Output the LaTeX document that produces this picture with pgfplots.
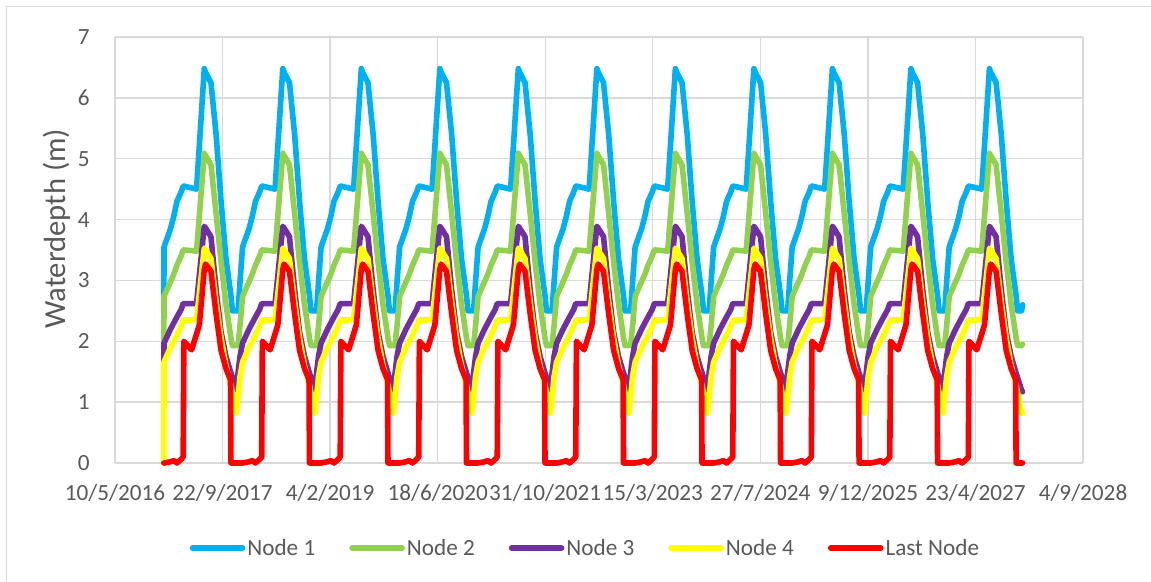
\documentclass[border=0pt]{standalone}
\usepackage{fontspec}
\setmainfont{Carlito}
\usepackage{pgfplots}
\usepackage{pgfplotstable}
\pgfplotsset{compat=1.18}

\definecolor{nodeone}{HTML}{00B0F0}
\definecolor{nodetwo}{HTML}{92D050}
\definecolor{nodethree}{HTML}{7030A0}
\definecolor{nodefour}{HTML}{FFFF00}
\definecolor{lastnode}{HTML}{FF0000}
\definecolor{gridgray}{HTML}{D9D9D9}
\definecolor{textgray}{HTML}{595959}

% days since 10/5/2016, water depth (m) for each node
\pgfplotstableread{
d n1 n2 n3 n4 ln
227 2.50 1.93 1.30 0.00 0.00
228 3.55 2.74 1.97 1.66 0.00
258 3.85 2.98 2.20 1.90 0.02
273 4.05 3.10 2.30 2.00 0.04
288 4.30 3.25 2.40 2.10 0.00
307 4.45 3.40 2.52 2.25 0.06
317 4.55 3.50 2.62 2.35 0.10
320 4.55 3.50 2.62 2.35 2.00
356 4.52 3.49 2.62 2.35 1.86
379 4.50 3.48 2.62 2.36 2.12
392 5.21 4.06 3.08 2.78 2.27
415 6.48 5.09 3.89 3.53 3.18
421 6.42 5.05 3.86 3.50 3.27
446 6.25 4.90 3.72 3.36 3.15
470 5.40 4.10 2.85 2.65 2.45
493 4.30 3.30 2.15 2.05 1.85
516 3.35 2.60 1.75 1.60 1.55
537 2.80 2.10 1.50 1.30 1.37
539 2.75 2.05 1.48 1.28 0.00
546 2.50 1.93 1.40 1.15 0.00
564 2.50 1.93 1.20 0.82 0.00
572 2.50 1.93 1.48 1.08 0.00
581 2.97 2.25 1.75 1.42 0.00
593 3.55 2.74 1.97 1.66 0.00
623 3.85 2.98 2.20 1.90 0.02
638 4.05 3.10 2.30 2.00 0.04
653 4.30 3.25 2.40 2.10 0.00
672 4.45 3.40 2.52 2.25 0.06
682 4.55 3.50 2.62 2.35 0.10
685 4.55 3.50 2.62 2.35 2.00
721 4.52 3.49 2.62 2.35 1.86
744 4.50 3.48 2.62 2.36 2.12
757 5.21 4.06 3.08 2.78 2.27
780 6.48 5.09 3.89 3.53 3.18
786 6.42 5.05 3.86 3.50 3.27
811 6.25 4.90 3.72 3.36 3.15
835 5.40 4.10 2.85 2.65 2.45
858 4.30 3.30 2.15 2.05 1.85
881 3.35 2.60 1.75 1.60 1.55
902 2.80 2.10 1.50 1.30 1.37
904 2.75 2.05 1.48 1.28 0.00
911 2.50 1.93 1.40 1.15 0.00
929 2.50 1.93 1.20 0.82 0.00
937 2.50 1.93 1.48 1.08 0.00
946 2.97 2.25 1.75 1.42 0.00
958 3.55 2.74 1.97 1.66 0.00
988 3.85 2.98 2.20 1.90 0.02
1003 4.05 3.10 2.30 2.00 0.04
1018 4.30 3.25 2.40 2.10 0.00
1037 4.45 3.40 2.52 2.25 0.06
1047 4.55 3.50 2.62 2.35 0.10
1050 4.55 3.50 2.62 2.35 2.00
1086 4.52 3.49 2.62 2.35 1.86
1109 4.50 3.48 2.62 2.36 2.12
1122 5.21 4.06 3.08 2.78 2.27
1145 6.48 5.09 3.89 3.53 3.18
1151 6.42 5.05 3.86 3.50 3.27
1176 6.25 4.90 3.72 3.36 3.15
1200 5.40 4.10 2.85 2.65 2.45
1223 4.30 3.30 2.15 2.05 1.85
1246 3.35 2.60 1.75 1.60 1.55
1267 2.80 2.10 1.50 1.30 1.37
1269 2.75 2.05 1.48 1.28 0.00
1276 2.50 1.93 1.40 1.15 0.00
1294 2.50 1.93 1.20 0.82 0.00
1302 2.50 1.93 1.48 1.08 0.00
1311 2.97 2.25 1.75 1.42 0.00
1323 3.55 2.74 1.97 1.66 0.00
1353 3.85 2.98 2.20 1.90 0.02
1368 4.05 3.10 2.30 2.00 0.04
1383 4.30 3.25 2.40 2.10 0.00
1402 4.45 3.40 2.52 2.25 0.06
1412 4.55 3.50 2.62 2.35 0.10
1415 4.55 3.50 2.62 2.35 2.00
1451 4.52 3.49 2.62 2.35 1.86
1474 4.50 3.48 2.62 2.36 2.12
1487 5.21 4.06 3.08 2.78 2.27
1510 6.48 5.09 3.89 3.53 3.18
1516 6.42 5.05 3.86 3.50 3.27
1541 6.25 4.90 3.72 3.36 3.15
1565 5.40 4.10 2.85 2.65 2.45
1588 4.30 3.30 2.15 2.05 1.85
1611 3.35 2.60 1.75 1.60 1.55
1632 2.80 2.10 1.50 1.30 1.37
1634 2.75 2.05 1.48 1.28 0.00
1641 2.50 1.93 1.40 1.15 0.00
1659 2.50 1.93 1.20 0.82 0.00
1667 2.50 1.93 1.48 1.08 0.00
1676 2.97 2.25 1.75 1.42 0.00
1688 3.55 2.74 1.97 1.66 0.00
1718 3.85 2.98 2.20 1.90 0.02
1733 4.05 3.10 2.30 2.00 0.04
1748 4.30 3.25 2.40 2.10 0.00
1767 4.45 3.40 2.52 2.25 0.06
1777 4.55 3.50 2.62 2.35 0.10
1780 4.55 3.50 2.62 2.35 2.00
1816 4.52 3.49 2.62 2.35 1.86
1839 4.50 3.48 2.62 2.36 2.12
1852 5.21 4.06 3.08 2.78 2.27
1875 6.48 5.09 3.89 3.53 3.18
1881 6.42 5.05 3.86 3.50 3.27
1906 6.25 4.90 3.72 3.36 3.15
1930 5.40 4.10 2.85 2.65 2.45
1953 4.30 3.30 2.15 2.05 1.85
1976 3.35 2.60 1.75 1.60 1.55
1997 2.80 2.10 1.50 1.30 1.37
1999 2.75 2.05 1.48 1.28 0.00
2006 2.50 1.93 1.40 1.15 0.00
2024 2.50 1.93 1.20 0.82 0.00
2032 2.50 1.93 1.48 1.08 0.00
2041 2.97 2.25 1.75 1.42 0.00
2053 3.55 2.74 1.97 1.66 0.00
2083 3.85 2.98 2.20 1.90 0.02
2098 4.05 3.10 2.30 2.00 0.04
2113 4.30 3.25 2.40 2.10 0.00
2132 4.45 3.40 2.52 2.25 0.06
2142 4.55 3.50 2.62 2.35 0.10
2145 4.55 3.50 2.62 2.35 2.00
2181 4.52 3.49 2.62 2.35 1.86
2204 4.50 3.48 2.62 2.36 2.12
2217 5.21 4.06 3.08 2.78 2.27
2240 6.48 5.09 3.89 3.53 3.18
2246 6.42 5.05 3.86 3.50 3.27
2271 6.25 4.90 3.72 3.36 3.15
2295 5.40 4.10 2.85 2.65 2.45
2318 4.30 3.30 2.15 2.05 1.85
2341 3.35 2.60 1.75 1.60 1.55
2362 2.80 2.10 1.50 1.30 1.37
2364 2.75 2.05 1.48 1.28 0.00
2371 2.50 1.93 1.40 1.15 0.00
2389 2.50 1.93 1.20 0.82 0.00
2397 2.50 1.93 1.48 1.08 0.00
2406 2.97 2.25 1.75 1.42 0.00
2418 3.55 2.74 1.97 1.66 0.00
2448 3.85 2.98 2.20 1.90 0.02
2463 4.05 3.10 2.30 2.00 0.04
2478 4.30 3.25 2.40 2.10 0.00
2497 4.45 3.40 2.52 2.25 0.06
2507 4.55 3.50 2.62 2.35 0.10
2510 4.55 3.50 2.62 2.35 2.00
2546 4.52 3.49 2.62 2.35 1.86
2569 4.50 3.48 2.62 2.36 2.12
2582 5.21 4.06 3.08 2.78 2.27
2605 6.48 5.09 3.89 3.53 3.18
2611 6.42 5.05 3.86 3.50 3.27
2636 6.25 4.90 3.72 3.36 3.15
2660 5.40 4.10 2.85 2.65 2.45
2683 4.30 3.30 2.15 2.05 1.85
2706 3.35 2.60 1.75 1.60 1.55
2727 2.80 2.10 1.50 1.30 1.37
2729 2.75 2.05 1.48 1.28 0.00
2736 2.50 1.93 1.40 1.15 0.00
2754 2.50 1.93 1.20 0.82 0.00
2762 2.50 1.93 1.48 1.08 0.00
2771 2.97 2.25 1.75 1.42 0.00
2783 3.55 2.74 1.97 1.66 0.00
2813 3.85 2.98 2.20 1.90 0.02
2828 4.05 3.10 2.30 2.00 0.04
2843 4.30 3.25 2.40 2.10 0.00
2862 4.45 3.40 2.52 2.25 0.06
2872 4.55 3.50 2.62 2.35 0.10
2875 4.55 3.50 2.62 2.35 2.00
2911 4.52 3.49 2.62 2.35 1.86
2934 4.50 3.48 2.62 2.36 2.12
2947 5.21 4.06 3.08 2.78 2.27
2970 6.48 5.09 3.89 3.53 3.18
2976 6.42 5.05 3.86 3.50 3.27
3001 6.25 4.90 3.72 3.36 3.15
3025 5.40 4.10 2.85 2.65 2.45
3048 4.30 3.30 2.15 2.05 1.85
3071 3.35 2.60 1.75 1.60 1.55
3092 2.80 2.10 1.50 1.30 1.37
3094 2.75 2.05 1.48 1.28 0.00
3101 2.50 1.93 1.40 1.15 0.00
3119 2.50 1.93 1.20 0.82 0.00
3127 2.50 1.93 1.48 1.08 0.00
3136 2.97 2.25 1.75 1.42 0.00
3148 3.55 2.74 1.97 1.66 0.00
3178 3.85 2.98 2.20 1.90 0.02
3193 4.05 3.10 2.30 2.00 0.04
3208 4.30 3.25 2.40 2.10 0.00
3227 4.45 3.40 2.52 2.25 0.06
3237 4.55 3.50 2.62 2.35 0.10
3240 4.55 3.50 2.62 2.35 2.00
3276 4.52 3.49 2.62 2.35 1.86
3299 4.50 3.48 2.62 2.36 2.12
3312 5.21 4.06 3.08 2.78 2.27
3335 6.48 5.09 3.89 3.53 3.18
3341 6.42 5.05 3.86 3.50 3.27
3366 6.25 4.90 3.72 3.36 3.15
3390 5.40 4.10 2.85 2.65 2.45
3413 4.30 3.30 2.15 2.05 1.85
3436 3.35 2.60 1.75 1.60 1.55
3457 2.80 2.10 1.50 1.30 1.37
3459 2.75 2.05 1.48 1.28 0.00
3466 2.50 1.93 1.40 1.15 0.00
3484 2.50 1.93 1.20 0.82 0.00
3492 2.50 1.93 1.48 1.08 0.00
3501 2.97 2.25 1.75 1.42 0.00
3513 3.55 2.74 1.97 1.66 0.00
3543 3.85 2.98 2.20 1.90 0.02
3558 4.05 3.10 2.30 2.00 0.04
3573 4.30 3.25 2.40 2.10 0.00
3592 4.45 3.40 2.52 2.25 0.06
3602 4.55 3.50 2.62 2.35 0.10
3605 4.55 3.50 2.62 2.35 2.00
3641 4.52 3.49 2.62 2.35 1.86
3664 4.50 3.48 2.62 2.36 2.12
3677 5.21 4.06 3.08 2.78 2.27
3700 6.48 5.09 3.89 3.53 3.18
3706 6.42 5.05 3.86 3.50 3.27
3731 6.25 4.90 3.72 3.36 3.15
3755 5.40 4.10 2.85 2.65 2.45
3778 4.30 3.30 2.15 2.05 1.85
3801 3.35 2.60 1.75 1.60 1.55
3822 2.80 2.10 1.50 1.30 1.37
3824 2.75 2.05 1.48 1.28 0.00
3831 2.50 1.93 1.40 1.15 0.00
3849 2.50 1.93 1.20 0.82 0.00
3857 2.50 1.93 1.48 1.08 0.00
3866 2.97 2.25 1.75 1.42 0.00
3878 3.55 2.74 1.97 1.66 0.00
3908 3.85 2.98 2.20 1.90 0.02
3923 4.05 3.10 2.30 2.00 0.04
3938 4.30 3.25 2.40 2.10 0.00
3957 4.45 3.40 2.52 2.25 0.06
3967 4.55 3.50 2.62 2.35 0.10
3970 4.55 3.50 2.62 2.35 2.00
4006 4.52 3.49 2.62 2.35 1.86
4029 4.50 3.48 2.62 2.36 2.12
4042 5.21 4.06 3.08 2.78 2.27
4065 6.48 5.09 3.89 3.53 3.18
4071 6.42 5.05 3.86 3.50 3.27
4096 6.25 4.90 3.72 3.36 3.15
4120 5.40 4.10 2.85 2.65 2.45
4143 4.30 3.30 2.15 2.05 1.85
4166 3.35 2.60 1.75 1.60 1.55
4187 2.80 2.10 1.50 1.30 1.37
4189 2.75 2.05 1.48 1.28 0.00
4196 2.50 1.93 1.40 1.15 0.00
4214 2.50 1.93 1.20 0.82 0.00
4219 2.60 1.95 1.17 0.82 0.00
}\depthdata

\begin{document}
\begin{tikzpicture}
\useasboundingbox (0pt,0pt) rectangle (863.25pt,435.75pt);
\draw[gridgray, line width=0.75pt] (4.5pt,-10pt) rectangle (880pt,430.5pt);
\begin{axis}[
    at={(86.25pt,88.5pt)}, anchor=south west,
    scale only axis, width=726pt, height=319.5pt,
    xmin=0, xmax=4500, ymin=0, ymax=7,
    clip=false,
    xtick={0,500,...,4500},
    xticklabels={10/5/2016,22/9/2017,4/2/2019,18/6/2020,31/10/2021,15/3/2023,27/7/2024,9/12/2025,23/4/2027,4/9/2028},
    ytick={0,1,...,7},
    grid=major,
    major grid style={draw=gridgray, line width=1pt},
    axis line style={draw=none},
    major tick length=0pt,
    /pgf/number format/assume math mode=true,
    tick label style={font=\fontsize{17.4}{20}\selectfont, text=textgray},
    xticklabel style={anchor=center, yshift=-22.5pt},
    yticklabel style={anchor=east, inner sep=0pt, xshift=-18.75pt},
    ylabel={Waterdepth (m)},
    every axis y label/.style={at={(axis description cs:-0.0599,0.55)}, rotate=90, anchor=center, font=\fontsize{23}{26}\selectfont, text=textgray},
    legend columns=5,
    legend style={at={(0.486,-0.1995)}, anchor=center, draw=none, fill=none,
        inner sep=0pt, font=\fontsize{17.4}{20}\selectfont,
        nodes={inner sep=1.5pt, text=textgray},
        /tikz/every even column/.append style={column sep=24pt}},
    legend image code/.code={\draw[#1] (0pt,0pt) -- (37.5pt,0pt);},
    every axis plot/.append style={line width=4.2pt, line join=round, line cap=round},
]
\addplot[nodeone] table[x=d, y=n1] {\depthdata};
\addlegendentry{Node 1}
\addplot[nodetwo] table[x=d, y=n2] {\depthdata};
\addlegendentry{Node 2}
\addplot[nodethree] table[x=d, y=n3] {\depthdata};
\addlegendentry{Node 3}
\addplot[nodefour] table[x=d, y=n4] {\depthdata};
\addlegendentry{Node 4}
\addplot[lastnode] table[x=d, y=ln] {\depthdata};
\addlegendentry{Last Node}
\end{axis}
\end{tikzpicture}
\end{document}
